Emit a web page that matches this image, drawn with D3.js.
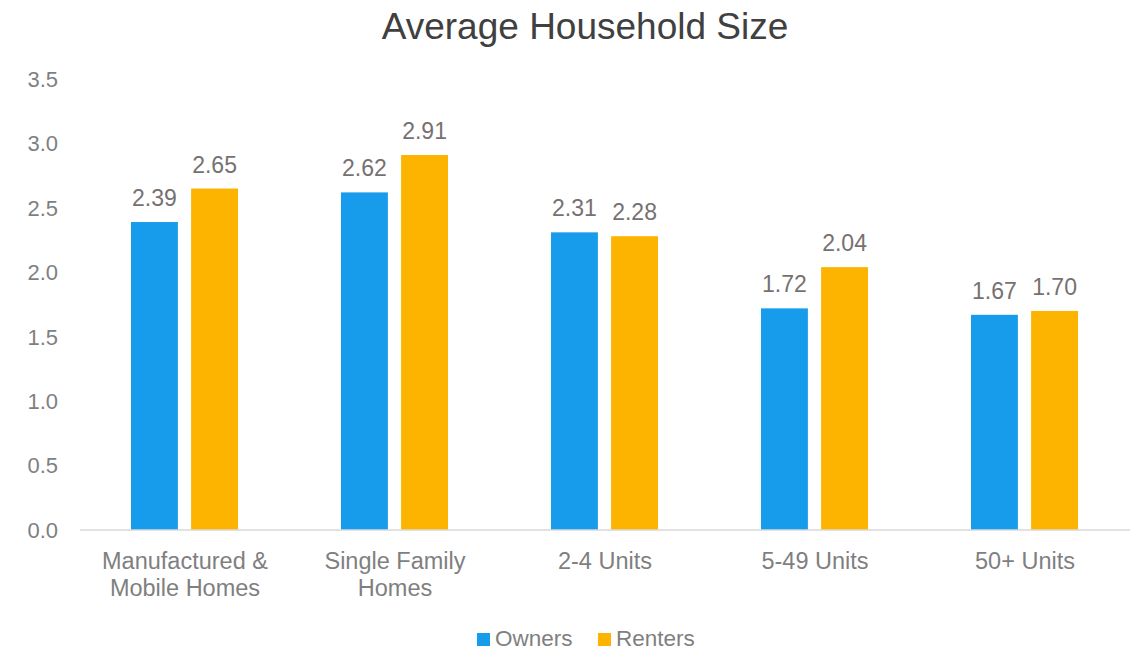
<!DOCTYPE html>
<html>
<head>
<meta charset="utf-8">
<script src="https://cdn.jsdelivr.net/npm/d3@7"></script>
<style>
  body { margin: 0; background: #fff; }
  text { font-family: "Liberation Sans", Arial, sans-serif; }
</style>
</head>
<body>
<div id="chart"></div>
<script>
const categories = [["Manufactured &", "Mobile Homes"], ["Single Family", "Homes"], ["2-4 Units"], ["5-49 Units"], ["50+ Units"]];
const series = ["Owners", "Renters"];
const owners = [2.39, 2.62, 2.31, 1.72, 1.67];
const renters = [2.65, 2.91, 2.28, 2.04, 1.70];
const yTicks = [0, 0.5, 1.0, 1.5, 2.0, 2.5, 3.0, 3.5];

const width = 1138;
const height = 650;
const colors = {Owners: "#179CEB", Renters: "#FDB400"};

const svg = d3.select('#chart').append('svg')
  .attr('width', width)
  .attr('height', height);

// scales
const x0 = d3.scaleBand()
  .domain(d3.range(categories.length))
  .range([80, 1130]);

const x1 = d3.scaleBand()
  .domain(series)
  .range([51, 158])
  .paddingInner(0.22);

const y = d3.scaleLinear()
  .domain([0, 3.5])
  .range([530, 79]);

const values = {Owners: owners, Renters: renters};

// y axis labels
svg.append('g').selectAll('text')
  .data(yTicks)
  .enter().append('text')
  .attr('x', 58)
  .attr('y', d => y(d))
  .attr('dy', '0.36em')
  .attr('text-anchor', 'end')
  .style('font-size', '22px')
  .attr('fill', '#7f7f7f')
  .text(d => d.toFixed(1));

// bars
const groups = svg.selectAll('g.cat')
  .data(categories)
  .enter().append('g')
  .attr('class', 'cat')
  .attr('transform', (d, i) => `translate(${x0(i)},0)`);

series.forEach(s => {
  groups.append('rect')
    .attr('x', x1(s))
    .attr('y', (d, i) => y(values[s][i]))
    .attr('width', x1.bandwidth())
    .attr('height', (d, i) => y(0) - y(values[s][i]))
    .attr('fill', colors[s]);

  groups.append('text')
    .attr('x', x1(s) + x1.bandwidth() / 2)
    .attr('y', (d, i) => y(values[s][i]) - 16)
    .attr('text-anchor', 'middle')
    .style('font-size', '23px')
    .attr('fill', '#767171')
    .text((d, i) => values[s][i].toFixed(2));
});

// x axis line
svg.append('line')
  .attr('x1', 80)
  .attr('x2', 1130)
  .attr('y1', y(0))
  .attr('y2', y(0))
  .attr('stroke', '#d9d9d9')
  .attr('stroke-width', 1.5);

// category labels
groups.append('text')
  .attr('x', x0.bandwidth() / 2)
  .attr('y', 569)
  .attr('text-anchor', 'middle')
  .style('font-size', '23.5px')
  .attr('fill', '#7f7f7f')
  .selectAll('tspan')
  .data(d => d)
  .enter().append('tspan')
  .attr('x', x0.bandwidth() / 2)
  .attr('dy', (d, i) => i === 0 ? 0 : 27)
  .text(d => d);

// legend
const legendX = [477, 598];
const legend = svg.append('g');
series.forEach((s, i) => {
  legend.append('rect')
    .attr('x', legendX[i])
    .attr('y', 633)
    .attr('width', 13)
    .attr('height', 13)
    .attr('fill', colors[s]);
  legend.append('text')
    .attr('x', legendX[i] + 18)
    .attr('y', 646)
    .style('font-size', '22.5px')
    .attr('fill', '#7f7f7f')
    .text(s);
});

// title
svg.append('text')
  .attr('x', 585)
  .attr('y', 39)
  .attr('text-anchor', 'middle')
  .style('font-size', '37px')
  .attr('fill', '#404040')
  .text('Average Household Size');
</script>
</body>
</html>
